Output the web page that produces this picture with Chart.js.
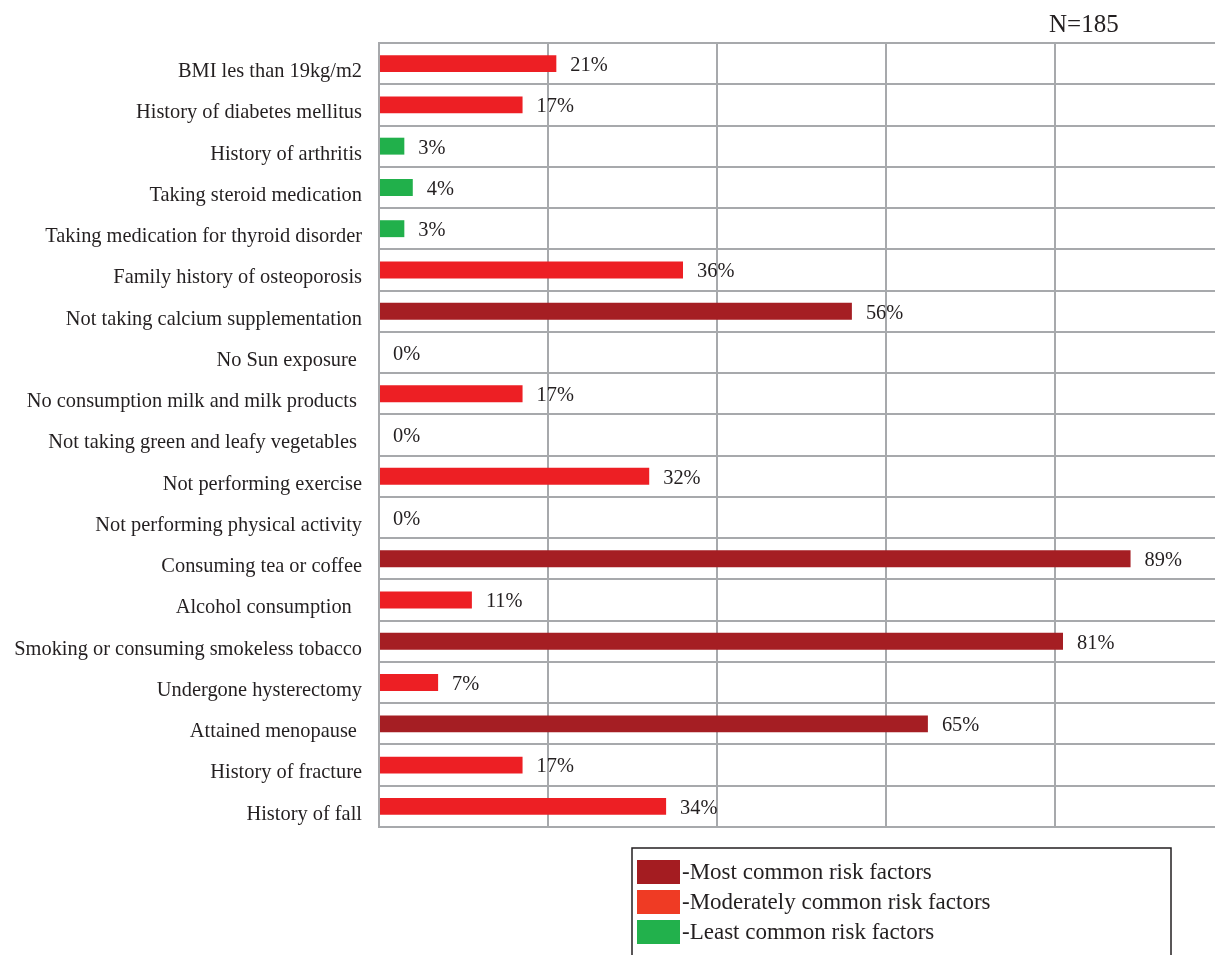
<!DOCTYPE html>
<html>
<head>
<meta charset="utf-8">
<script src="https://cdn.jsdelivr.net/npm/chart.js@4.4.0/dist/chart.umd.min.js"></script>
<style>
  html, body { margin: 0; padding: 0; background: #fff; overflow: hidden; }
</style>
</head>
<body>
<canvas id="riskChart" width="1215" height="955"></canvas>
<script>
const categories = [
  "BMI les than 19kg/m2",
  "History of diabetes mellitus",
  "History of arthritis",
  "Taking steroid medication",
  "Taking medication for thyroid disorder",
  "Family history of osteoporosis",
  "Not taking calcium supplementation",
  "No Sun exposure ",
  "No consumption milk and milk products ",
  "Not taking green and leafy vegetables ",
  "Not performing exercise",
  "Not performing physical activity",
  "Consuming tea or coffee",
  "Alcohol consumption  ",
  "Smoking or consuming smokeless tobacco",
  "Undergone hysterectomy",
  "Attained menopause ",
  "History of fracture",
  "History of fall"
];
const percentages = [21, 17, 3, 4, 3, 36, 56, 0, 17, 0, 32, 0, 89, 11, 81, 7, 65, 17, 34];
const levels = ["mod", "mod", "least", "least", "least", "mod", "most", "mod", "mod", "mod",
                "mod", "mod", "most", "mod", "most", "mod", "most", "mod", "mod"];
const legendLabels = ["-Most common risk factors", "-Moderately common risk factors", "-Least common risk factors"];
const sampleSize = "N=185";

const barColors = { most: "#a51e23", mod: "#ed1f24", least: "#21b04b" };
const legendColors = ["#a41c21", "#ef3b24", "#22b14c"];
const textColor = "#231f20";
const gridColor = "#a7a9ac";

Chart.defaults.font.family = '"Liberation Serif", "Times New Roman", serif';
Chart.defaults.color = textColor;

// value labels to the right of each bar
const valueLabels = {
  id: "valueLabels",
  afterDatasetsDraw(chart) {
    const ctx = chart.ctx;
    const meta = chart.getDatasetMeta(0);
    ctx.save();
    ctx.font = '20.4px "Liberation Serif", serif';
    ctx.fillStyle = textColor;
    ctx.textAlign = "left";
    ctx.textBaseline = "middle";
    meta.data.forEach((bar, i) => {
      ctx.fillText(percentages[i] + "%", bar.x + 14, bar.y + 2);
    });
    ctx.restore();
  }
};

// N= note and boxed legend
const extras = {
  id: "extras",
  afterDraw(chart) {
    const ctx = chart.ctx;
    const area = chart.chartArea;
    ctx.save();
    ctx.fillStyle = textColor;
    ctx.font = '25px "Liberation Serif", serif';
    ctx.textAlign = "left";
    ctx.textBaseline = "alphabetic";
    ctx.fillText(sampleSize, area.right - 166, 32);

    // legend box
    const bx = 632, by = 848, bw = 539, bh = 120;
    ctx.strokeStyle = "#231f20";
    ctx.lineWidth = 1.5;
    ctx.strokeRect(bx, by, bw, bh);
    ctx.font = '23px "Liberation Serif", serif';
    ctx.textBaseline = "middle";
    legendLabels.forEach((txt, i) => {
      const y = by + 24 + i * 30;
      ctx.fillStyle = legendColors[i];
      ctx.fillRect(bx + 5, y - 12, 43, 24);
      ctx.fillStyle = textColor;
      ctx.fillText(txt, bx + 50, y + 1);
    });
    ctx.restore();
  }
};

new Chart(document.getElementById("riskChart"), {
  type: "bar",
  data: {
    labels: categories,
    datasets: [{
      data: percentages,
      backgroundColor: levels.map(l => barColors[l]),
      borderWidth: 0,
      categoryPercentage: 1,
      barPercentage: 0.41
    }]
  },
  plugins: [valueLabels, extras],
  options: {
    indexAxis: "y",
    responsive: false,
    animation: false,
    devicePixelRatio: 1,
    layout: { padding: { top: 43, bottom: 128, right: 0, left: 0 } },
    plugins: {
      legend: { display: false },
      tooltip: { enabled: false }
    },
    scales: {
      x: {
        min: 0,
        max: 99,
        afterBuildTicks(scale) {
          scale.ticks = scale.ticks.filter(t => t.value % 20 === 0);
        },
        afterFit(scale) { scale.height = 0; },
        ticks: { display: false, stepSize: 20 },
        grid: { color: gridColor, lineWidth: 2, drawTicks: false },
        border: { display: false }
      },
      y: {
        afterFit(scale) { scale.width = 379; },
        ticks: { padding: 17, labelOffset: 8, font: { size: 20.4 }, color: textColor, autoSkip: false },
        grid: { color: gridColor, lineWidth: 2, drawTicks: false, offset: true },
        border: { display: true, color: gridColor, width: 2 }
      }
    }
  }
});
</script>
</body>
</html>
